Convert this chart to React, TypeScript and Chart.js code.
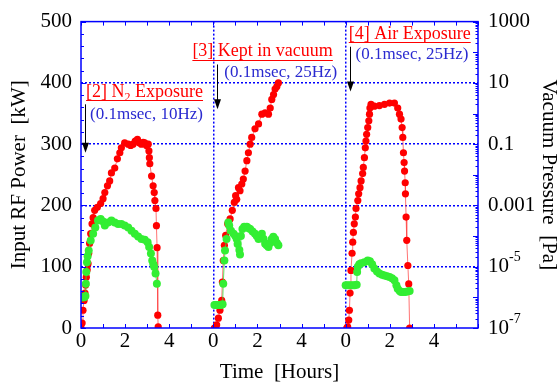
import React, { useEffect, useRef } from "react";
import { Chart, registerables } from "chart.js";

Chart.register(...registerables);

const FONT = "'Liberation Serif', 'Times New Roman', serif";
const BLUE = "#0000ff";

// ---- [2] N2 exposure (hours 0-6) ----
const n2PowerHours = [0.0, 0.05, 0.09, 0.14, 0.18, 0.21, 0.24, 0.28, 0.32, 0.35, 0.39, 0.44, 0.5, 0.55, 0.62, 0.74, 0.89, 1.0, 1.08, 1.2, 1.3, 1.38, 1.53, 1.65, 1.76, 1.83, 1.98, 2.14, 2.25, 2.36, 2.46, 2.56, 2.65, 2.74, 2.82, 2.89, 2.97, 3.05, 3.08, 3.1, 3.12, 3.2, 3.27, 3.32, 3.35, 3.4, 3.42, 3.45, 3.48, 3.5];
const n2PowerKW = [0, 8, 29, 45, 57, 70, 83, 95, 105, 122, 138, 154, 170, 180, 192, 197, 203, 211, 221, 232, 240, 253, 261, 276, 286, 294, 302, 300, 298, 300, 305, 308, 302, 300, 303, 302, 298, 300, 289, 278, 268, 248, 232, 221, 208, 195, 167, 131, 21, 2];
const n2PressureHours = [0.0, 0.05, 0.1, 0.15, 0.2, 0.22, 0.24, 0.27, 0.3, 0.35, 0.44, 0.55, 0.65, 0.77, 0.89, 1.0, 1.08, 1.23, 1.38, 1.53, 1.68, 1.83, 1.98, 2.14, 2.29, 2.44, 2.59, 2.74, 2.89, 3.02, 3.09, 3.17, 3.23, 3.28, 3.32, 3.38, 3.44];
const n2PressurePa = [1.0e-6, 1.0e-6, 1.0e-6, 1.0e-6, 1.1e-6, 2.8e-6, 6.7e-6, 1.4e-5, 2.2e-5, 3.4e-5, 7.2e-5, 1.2e-4, 1.9e-4, 3.2e-4, 3.6e-4, 3.0e-4, 2.2e-4, 2.8e-4, 3.2e-4, 2.8e-4, 2.5e-4, 2.5e-4, 2.2e-4, 1.9e-4, 1.5e-4, 1.2e-4, 9.7e-5, 8.1e-5, 7.6e-5, 6.3e-5, 4.4e-5, 2.7e-5, 1.6e-5, 1.2e-5, 9.8e-6, 6.0e-6, 2.8e-6];

// ---- [3] Kept in vacuum (hours 6-12) ----
const vacPowerHours = [6.05, 6.08, 6.15, 6.23, 6.3, 6.38, 6.41, 6.45, 6.5, 6.56, 6.65, 6.76, 6.86, 6.95, 7.01, 7.06, 7.14, 7.21, 7.29, 7.36, 7.44, 7.52, 7.59, 7.67, 7.74, 7.89, 8.05, 8.2, 8.35, 8.5, 8.58, 8.65, 8.73, 8.8, 8.88, 8.95];
const vacPowerKW = [0, 0, 5, 16, 29, 45, 75, 110, 135, 151, 170, 178, 192, 205, 216, 210, 229, 224, 235, 243, 256, 273, 286, 300, 311, 325, 333, 349, 351, 349, 359, 373, 381, 390, 394, 400];
const vacPressureHours = [6.05, 6.12, 6.2, 6.28, 6.36, 6.42, 6.45, 6.5, 6.53, 6.6, 6.68, 6.72, 6.8, 6.92, 7.0, 7.06, 7.1, 7.18, 7.21, 7.25, 7.32, 7.4, 7.52, 7.6, 7.67, 7.78, 7.89, 7.97, 8.05, 8.12, 8.2, 8.28, 8.35, 8.42, 8.5, 8.58, 8.65, 8.72, 8.8, 8.88, 8.95];
const vacPressurePa = [5.6e-7, 5.6e-7, 5.6e-7, 5.6e-7, 5.6e-7, 6.0e-7, 2.8e-6, 1.6e-5, 3.4e-5, 8.1e-5, 2.8e-4, 2.2e-4, 1.5e-4, 1.2e-4, 1.0e-4, 8.1e-5, 5.5e-5, 3.5e-5, 2.5e-5, 1.0e-4, 1.7e-4, 2.0e-4, 2.0e-4, 1.8e-4, 1.7e-4, 1.4e-4, 1.2e-4, 1.0e-4, 8.0e-5, 1.0e-4, 1.2e-4, 8.0e-5, 5.6e-5, 5.0e-5, 4.4e-5, 6.0e-5, 8.1e-5, 9.5e-5, 8.0e-5, 6.0e-5, 5.0e-5];

// ---- [4] Air exposure (hours 12-18) ----
const airPowerHours = [12.05, 12.09, 12.14, 12.17, 12.2, 12.24, 12.29, 12.32, 12.35, 12.39, 12.44, 12.47, 12.55, 12.59, 12.65, 12.7, 12.77, 12.8, 12.85, 12.89, 12.92, 12.95, 13.0, 13.05, 13.08, 13.1, 13.15, 13.3, 13.53, 13.76, 13.99, 14.21, 14.36, 14.44, 14.51, 14.56, 14.59, 14.62, 14.65, 14.67, 14.7, 14.71, 14.74, 14.77, 14.82, 14.86, 14.9];
const airPowerKW = [0, 2, 13, 29, 57, 94, 122, 140, 156, 170, 181, 195, 208, 219, 229, 240, 252, 262, 278, 294, 305, 316, 327, 338, 349, 359, 365, 362, 363, 365, 367, 367, 359, 349, 341, 327, 311, 286, 270, 256, 237, 219, 181, 143, 102, 72, 0];
const airPressureHours = [12.0, 12.1, 12.2, 12.3, 12.4, 12.5, 12.52, 12.55, 12.62, 12.7, 12.85, 13.0, 13.1, 13.2, 13.3, 13.42, 13.53, 13.65, 13.76, 13.88, 13.99, 14.1, 14.21, 14.3, 14.36, 14.45, 14.51, 14.6, 14.7, 14.8, 14.9];
const airPressurePa = [2.5e-6, 2.5e-6, 2.5e-6, 2.5e-6, 2.5e-6, 2.6e-6, 6.7e-6, 1.0e-5, 1.2e-5, 1.3e-5, 1.4e-5, 1.6e-5, 1.5e-5, 1.2e-5, 8.7e-6, 7.0e-6, 6.0e-6, 5.5e-6, 5.2e-6, 4.9e-6, 4.6e-6, 4.2e-6, 3.6e-6, 2.5e-6, 1.9e-6, 1.6e-6, 1.5e-6, 1.5e-6, 1.5e-6, 1.55e-6, 1.6e-6];

// ---- axes ----
const hourTicks = [0, 1, 2, 3, 4, 5, 6, 7, 8, 9, 10, 11, 12, 13, 14, 15, 16, 17, 18];
const panelLength = 6;
const panelStarts = [6, 12];
const powerTicks = [0, 100, 200, 300, 400, 500];
const pressureTicks = [1000, 10, 0.1, 0.001, 1e-5, 1e-7];
const pressureTickBase = ["1000", "10", "0.1", "0.001", "10", "10"];
const pressureTickExp = ["", "", "", "", "-5", "-7"];

// ---- annotations (text) ----
const annotationTitles = [["[2] N", "2", " Exposure"], ["[3] Kept in vacuum", "", ""], ["[4] Air Exposure", "", ""]];
const annotationConditions = ["(0.1msec, 10Hz)", "(0.1msec, 25Hz)", "(0.1msec, 25Hz)"];
// anchors in data units: [hour, kW]
const titleAnchors = [[0.23, 385], [5.05, 451], [12.14, 479]];
const conditionAnchors = [[0.41, 349], [6.5, 417], [12.45, 446]];
const arrowAnchors = [[0.18, 365, 286], [6.18, 430, 357], [12.18, 459, 386]];

const toPoints = (xs: number[], ys: number[]) => xs.map((x, i) => ({ x, y: ys[i] }));

const RED_STYLE = {
  yAxisID: "y",
  showLine: true,
  borderColor: "rgba(255,70,70,0.75)",
  borderWidth: 1,
  pointRadius: 3.6,
  pointBackgroundColor: "#ff0000",
  pointBorderWidth: 0,
  order: 2,
};
const GREEN_STYLE = {
  yAxisID: "y1",
  showLine: true,
  borderColor: "rgba(60,220,60,0.8)",
  borderWidth: 1,
  pointRadius: 4,
  pointBackgroundColor: "#33ee33",
  pointBorderWidth: 0,
  order: 1,
};

const framePlugin = {
  id: "frameAndTicks",
  afterDatasetsDraw(chart: any) {
    const { ctx, chartArea: a, scales } = chart;
    const x = scales.x, y = scales.y, y1 = scales.y1;
    ctx.save();
    ctx.strokeStyle = BLUE;
    ctx.lineWidth = 1;
    const line = (x1: number, y1p: number, x2: number, y2p: number) => {
      ctx.beginPath();
      ctx.moveTo(x1, y1p);
      ctx.lineTo(x2, y2p);
      ctx.stroke();
    };
    for (let v = 0; v <= 500; v += 20) {
      const py = Math.round(y.getPixelForValue(v)) + 0.5;
      line(a.left, py, a.left + (v % 100 === 0 ? 5 : 3), py);
    }
    for (let e = -7; e <= 3; e++) {
      for (let m = 1; m < 10; m++) {
        const v = m * Math.pow(10, e);
        if (v > 1000) break;
        const py = Math.round(y1.getPixelForValue(v)) + 0.5;
        line(a.right - (m === 1 ? 5 : 2.5), py, a.right, py);
      }
    }
    for (const h of hourTicks) {
      const px = Math.round(x.getPixelForValue(h)) + 0.5;
      line(px, a.bottom, px, a.bottom - 4);
      line(px, a.top, px, a.top + 4);
    }
    ctx.lineWidth = 1.5;
    ctx.strokeRect(a.left, a.top, a.right - a.left, a.bottom - a.top);

    // right axis tick labels with superscripts
    ctx.fillStyle = "#000";
    ctx.textBaseline = "middle";
    ctx.textAlign = "left";
    pressureTicks.forEach((v, i) => {
      const py = y1.getPixelForValue(v);
      ctx.font = `21px ${FONT}`;
      const lx = a.right + 10;
      ctx.fillText(pressureTickBase[i], lx, py);
      if (pressureTickExp[i]) {
        const w = ctx.measureText(pressureTickBase[i]).width;
        ctx.font = `14px ${FONT}`;
        ctx.fillText(pressureTickExp[i], lx + w, py - 9);
      }
    });

    // annotations
    annotationTitles.forEach((parts, i) => {
      const tx = x.getPixelForValue(titleAnchors[i][0]);
      const ty = y.getPixelForValue(titleAnchors[i][1]);
      ctx.fillStyle = "#ff0000";
      ctx.strokeStyle = "#ff0000";
      ctx.textBaseline = "middle";
      let cx = tx;
      ctx.font = `18px ${FONT}`;
      ctx.fillText(parts[0], cx, ty);
      cx += ctx.measureText(parts[0]).width;
      if (parts[1]) {
        ctx.font = `12px ${FONT}`;
        ctx.fillText(parts[1], cx, ty + 6);
        cx += ctx.measureText(parts[1]).width;
      }
      if (parts[2]) {
        ctx.font = `18px ${FONT}`;
        ctx.fillText(parts[2], cx, ty);
        cx += ctx.measureText(parts[2]).width;
      }
      ctx.lineWidth = 1;
      line(tx, Math.round(ty + 8) + 0.5, cx, Math.round(ty + 8) + 0.5);

      const sx = x.getPixelForValue(conditionAnchors[i][0]);
      const sy = y.getPixelForValue(conditionAnchors[i][1]);
      ctx.fillStyle = "#2a2ad0";
      ctx.font = `17px ${FONT}`;
      ctx.fillText(annotationConditions[i], sx, sy);

      const ax = Math.round(x.getPixelForValue(arrowAnchors[i][0])) + 0.5;
      const ay1 = y.getPixelForValue(arrowAnchors[i][1]);
      const ay2 = y.getPixelForValue(arrowAnchors[i][2]);
      ctx.strokeStyle = "#000";
      ctx.fillStyle = "#000";
      line(ax, ay1, ax, ay2 - 8);
      ctx.beginPath();
      ctx.moveTo(ax - 3.5, ay2 - 10);
      ctx.lineTo(ax + 3.5, ay2 - 10);
      ctx.lineTo(ax, ay2);
      ctx.closePath();
      ctx.fill();
    });
    ctx.restore();
  },
};

export default function App() {
  const ref = useRef<HTMLCanvasElement | null>(null);
  useEffect(() => {
    if (!ref.current) return;
    const chart = new Chart(ref.current, {
      type: "scatter",
      data: {
        datasets: [
          { ...GREEN_STYLE, label: "N2 pressure", data: toPoints(n2PressureHours, n2PressurePa) },
          { ...GREEN_STYLE, label: "Vacuum pressure", data: toPoints(vacPressureHours, vacPressurePa) },
          { ...GREEN_STYLE, label: "Air pressure", data: toPoints(airPressureHours, airPressurePa) },
          { ...RED_STYLE, label: "N2 power", data: toPoints(n2PowerHours, n2PowerKW) },
          { ...RED_STYLE, label: "Vacuum power", data: toPoints(vacPowerHours, vacPowerKW) },
          { ...RED_STYLE, label: "Air power", data: toPoints(airPowerHours, airPowerKW) },
        ] as any,
      },
      options: {
        responsive: false,
        animation: false,
        events: [],
        layout: { padding: { top: 20, left: 0, right: 0, bottom: 0 } },
        plugins: { legend: { display: false }, tooltip: { enabled: false } },
        scales: {
          x: {
            type: "linear",
            min: 0,
            max: 18,
            afterFit: (s: any) => { s.height = 57; },
            afterBuildTicks: (s: any) => { s.ticks = hourTicks.map((v) => ({ value: v })); },
            ticks: {
              autoSkip: false,
              maxRotation: 0,
              padding: 1,
              color: "#000",
              font: { family: FONT, size: 21 },
              callback: (v: any) => {
                const h = Number(v);
                if (h >= 18) return "";
                const local = h % panelLength;
                return local % 2 === 0 ? String(local) : "";
              },
            },
            grid: {
              drawTicks: false,
              lineWidth: 1.5,
              color: (c: any) => (panelStarts.includes(c.tick?.value) ? BLUE : "rgba(0,0,0,0)"),
            },
            border: { display: false, dash: [2, 2] },
            title: { display: true, text: "Time  [Hours]", color: "#000", font: { family: FONT, size: 21 }, padding: { top: 0, bottom: 0 } },
          },
          y: {
            position: "left",
            min: 0,
            max: 500,
            afterFit: (s: any) => { s.width = 81; },
            afterBuildTicks: (s: any) => { s.ticks = powerTicks.map((v) => ({ value: v })); },
            ticks: { padding: 9, color: "#000", font: { family: FONT, size: 21 } },
            grid: {
              drawTicks: false,
              lineWidth: 1.5,
              color: (c: any) => (c.tick && c.tick.value > 0 && c.tick.value < 500 ? BLUE : "rgba(0,0,0,0)"),
            },
            border: { display: false, dash: [2, 2] },
            title: { display: true, text: "Input RF Power  [kW]", color: "#000", font: { family: FONT, size: 21 }, padding: { top: 7, bottom: 0 } },
          },
          y1: {
            type: "logarithmic",
            position: "right",
            min: 1e-7,
            max: 1000,
            afterFit: (s: any) => { s.width = 80; },
            afterBuildTicks: (s: any) => { s.ticks = pressureTicks.map((v) => ({ value: v })); },
            ticks: { display: false },
            grid: { display: false, drawTicks: false },
            border: { display: false },
            title: { display: true, text: "Vacuum Pressure  [Pa]", color: "#000", font: { family: FONT, size: 21 }, padding: { top: -3, bottom: 0 } },
          },
        },
      },
      plugins: [framePlugin],
    } as any);
    return () => chart.destroy();
  }, []);
  return (
    <div style={{ position: "fixed", left: 0, top: 0, width: 558, height: 385, background: "#fff" }}>
      <canvas ref={ref} width={558} height={385} style={{ display: "block", width: 558, height: 385 }} />
    </div>
  );
}
